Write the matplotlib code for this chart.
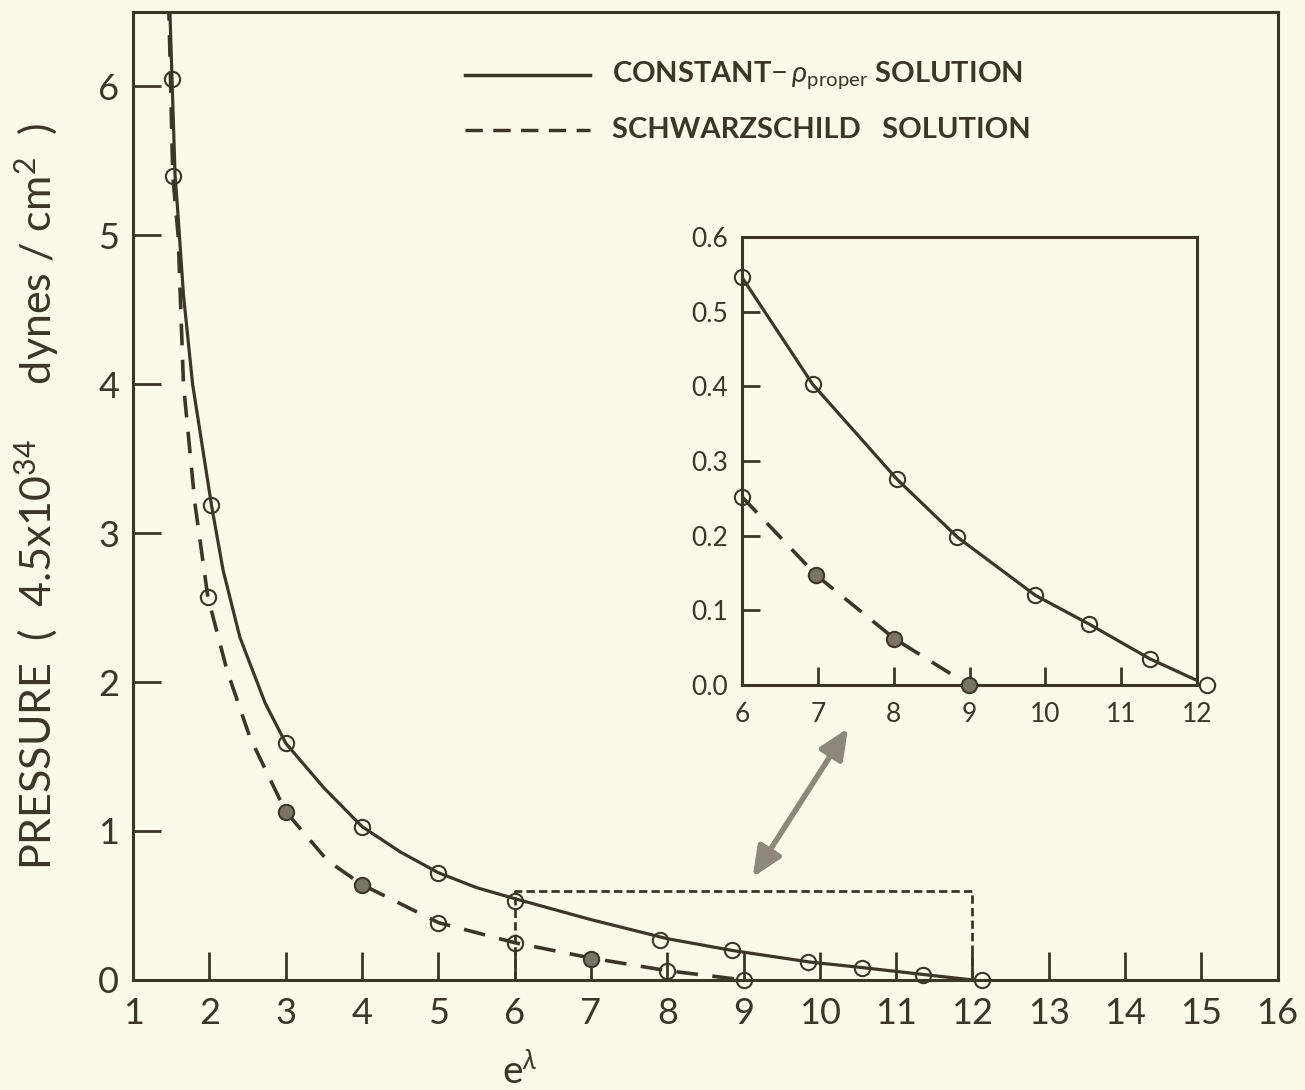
import matplotlib
matplotlib.use("Agg")
import matplotlib.pyplot as plt
from matplotlib.lines import Line2D

plt.rcParams["mathtext.fontset"] = "custom"
plt.rcParams["mathtext.rm"] = "Lato"
plt.rcParams["mathtext.it"] = "Lato:italic"

# values
# constant-rho_proper solution (solid curve)
const_curve_x = [1.47, 1.51, 1.55, 1.58, 1.66, 1.78, 2.03, 2.18, 2.4, 2.73, 3.0, 3.5, 4.0, 4.5, 5.0, 5.5,
                 6.0, 7.0, 8.0, 8.85, 9.87, 10.57, 11.38, 12.0]
const_curve_y = [6.7, 6.05, 5.4, 5.2, 4.6, 4.0, 3.18, 2.75, 2.3, 1.86, 1.59, 1.29, 1.03, 0.86, 0.72, 0.62,
                 0.546, 0.405, 0.277, 0.198, 0.12, 0.082, 0.035, 0.0]
const_pts_x = [1.51, 2.02, 3.0, 4.0, 5.0, 6.0, 7.9, 8.85, 9.85, 10.55, 11.35, 12.12]
const_pts_y = [6.05, 3.19, 1.59, 1.03, 0.72, 0.53, 0.27, 0.2, 0.12, 0.08, 0.035, 0.0]
inset_const_x = [6.0, 6.93, 8.04, 8.84, 9.87, 10.57, 11.38, 12.13]
inset_const_y = [0.546, 0.403, 0.276, 0.198, 0.12, 0.082, 0.035, 0.0]

# Schwarzschild solution (dashed curve)
schw_curve_x = [1.46, 1.52, 1.59, 1.66, 1.81, 1.98, 2.23, 2.53, 3.0, 3.55, 4.0, 5.0, 6.0, 7.0, 8.0, 9.0]
schw_curve_y = [6.7, 5.4, 5.0, 4.0, 3.2, 2.57, 2.08, 1.63, 1.13, 0.8, 0.64, 0.385, 0.25, 0.147, 0.062, 0.0]
schw_pts_x = [1.52, 1.98, 3.0, 4.0, 5.0, 6.0, 7.0, 8.0, 9.0]
schw_pts_y = [5.4, 2.57, 1.13, 0.64, 0.385, 0.25, 0.14, 0.06, 0.0]
schw_filled = [False, False, True, True, False, False, True, False, False]
inset_schw_x = [6.0, 6.98, 8.01, 8.99]
inset_schw_y = [0.252, 0.147, 0.062, 0.0]
inset_schw_filled = [False, True, True, True]

main_xticks = list(range(1, 17))
main_yticks = list(range(0, 7))
inset_xticks = list(range(6, 13))
inset_yticks = [0.0, 0.1, 0.2, 0.3, 0.4, 0.5, 0.6]

ink = "#3b3628"
paper = "#fbf9ea"

fig = plt.figure(figsize=(13.05, 10.9), dpi=100, facecolor=paper)
ax = fig.add_axes([0.102, 0.101, 0.877, 0.888], facecolor=paper)


def draw_pts(a, xs, ys, filled, ms):
    for x, y, f in zip(xs, ys, filled):
        a.plot(x, y, "o", ms=ms, mfc="#7a7466" if f else "none", mec=ink, mew=1.5,
               clip_on=False, zorder=4)


def style_axes(a, xticks, yticks, ylabels, size, ticklen):
    for s in a.spines.values():
        s.set_color(ink)
        s.set_linewidth(2.2)
    a.set_xticks(xticks)
    a.set_yticks(yticks)
    a.set_yticklabels(ylabels)
    a.tick_params(direction="in", length=ticklen, width=2, color=ink,
                  labelsize=size, labelcolor=ink, pad=10)
    a.tick_params(axis="x", pad=12)


# main plot
ax.plot(const_curve_x, const_curve_y, "-", color=ink, lw=2.3)
ax.plot(schw_curve_x, schw_curve_y, color=ink, lw=2.6, dashes=(6, 4))
draw_pts(ax, const_pts_x, const_pts_y, [False] * len(const_pts_x), 11)
draw_pts(ax, schw_pts_x, schw_pts_y, schw_filled, 11)

# dotted box marking the enlarged region
ax.plot([6, 6, 12, 12], [0, 0.6, 0.6, 0], color=ink, lw=2, dashes=(3, 1.5))

ax.set_xlim(1, 16)
ax.set_ylim(0, 6.5)
style_axes(ax, main_xticks, main_yticks, [str(v) for v in main_yticks], 26, 20)
ax.set_xticklabels([str(v) for v in main_xticks])
for lab in ax.get_xticklabels() + ax.get_yticklabels():
    lab.set_fontfamily("Lato")

ax.set_ylabel(r"PRESSURE  (  4.5x10$^{34}$     dynes / cm$^{2}$  )", fontsize=31,
              color=ink, family="Lato")
ax.yaxis.set_label_coords(-0.063, 0.5)
ax.set_xlabel(r"e$^{\lambda}$", fontsize=28, color=ink, family="Lato")
ax.xaxis.set_label_coords(0.338, -0.075)

# double arrow pointing to the inset
ax.annotate("", xy=(9.12, 0.69), xytext=(10.37, 1.69),
            arrowprops=dict(arrowstyle="<|-|>,head_length=1.8,head_width=0.8",
                            color="#8e877b", lw=4, shrinkA=0, shrinkB=0))

# legend drawn by hand
fig.add_artist(Line2D([465 / 1305, 590 / 1305], [1 - 75 / 1090] * 2, color=ink, lw=2.5))
fig.add_artist(Line2D([465 / 1305, 590 / 1305], [1 - 130 / 1090] * 2, color=ink, lw=2.5,
                      dashes=(5, 3)))
fig.text(612 / 1305, 1 - 75 / 1090, r"CONSTANT$-\,\rho_{\mathrm{proper}}$ SOLUTION",
         fontsize=21, color=ink, weight="bold", va="center", family="Lato")
fig.text(612 / 1305, 1 - 130 / 1090, "SCHWARZSCHILD   SOLUTION",
         fontsize=21, color=ink, weight="bold", va="center", family="Lato")

# inset
ins = fig.add_axes([742 / 1305, 1 - 685 / 1090, 455 / 1305, 448 / 1090], facecolor=paper)
ins.plot(inset_const_x, inset_const_y, "-", color=ink, lw=2.3)
ins.plot(inset_schw_x, inset_schw_y, color=ink, lw=2.6, dashes=(6, 4))
draw_pts(ins, inset_const_x, inset_const_y, [False] * len(inset_const_x), 11)
draw_pts(ins, inset_schw_x, inset_schw_y, inset_schw_filled, 11)
ins.set_xlim(6, 12)
ins.set_ylim(0, 0.6)
style_axes(ins, inset_xticks, inset_yticks, ["%.1f" % v for v in inset_yticks], 19, 13)
ins.set_xticklabels([str(v) for v in inset_xticks])
for lab in ins.get_xticklabels() + ins.get_yticklabels():
    lab.set_fontfamily("Lato")

fig.savefig("out.png", dpi=100, facecolor=paper)
